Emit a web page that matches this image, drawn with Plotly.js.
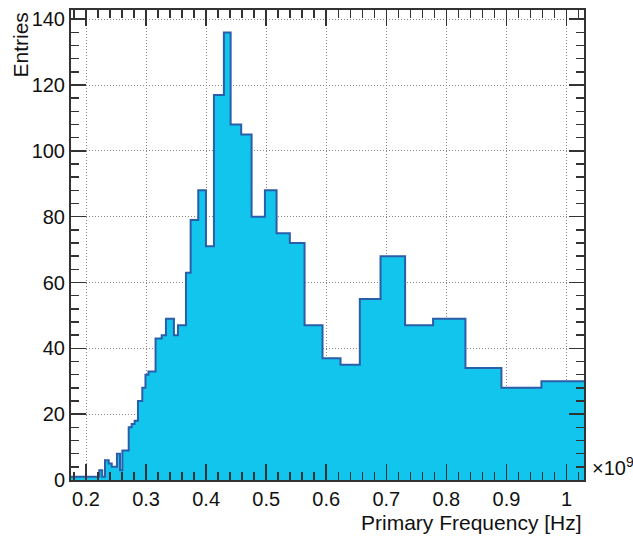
<!DOCTYPE html>
<html>
<head>
<meta charset="utf-8">
<script src="https://cdn.plot.ly/plotly-3.0.1.min.js"></script>
<style>html,body{margin:0;padding:0;background:#fff;}#chart{width:633px;height:536px;}</style>
</head>
<body>
<div id="chart"></div>
<script>
// Bin edges in units of 10^9 Hz
const binEdges = [0.175, 0.222, 0.227, 0.2316, 0.2378, 0.2428, 0.2515, 0.2566, 0.2605, 0.2711,
  0.2760, 0.2810, 0.2865, 0.2937, 0.2990, 0.3040, 0.3158, 0.3260, 0.3331, 0.3464,
  0.3531, 0.3664, 0.3742, 0.3869, 0.3997, 0.4130, 0.4296, 0.4408, 0.4584, 0.4757,
  0.4979, 0.5173, 0.5394, 0.5639, 0.5938, 0.6238, 0.6559, 0.6904, 0.7313, 0.7779,
  0.8318, 0.8917, 0.9583, 1.0292];
// Entries per bin
const binCounts = [1, 3, 1, 6, 5, 4, 8, 3, 9, 16,
  17, 18, 24, 28, 32, 33, 43, 44, 49, 44,
  47, 63, 79, 88, 71, 117, 136, 108, 105, 80,
  88, 75, 72, 47, 37, 35, 55, 68, 47, 49,
  34, 28, 30];
const xTickVals = [0.2, 0.3, 0.4, 0.5, 0.6, 0.7, 0.8, 0.9, 1.0];
const xTickText = ['0.2', '0.3', '0.4', '0.5', '0.6', '0.7', '0.8', '0.9', '1'];
const yTickVals = [0, 20, 40, 60, 80, 100, 120, 140];

const stepY = binCounts.concat([binCounts[binCounts.length - 1]]);

const trace = {
  type: 'scatter',
  mode: 'lines',
  x: binEdges,
  y: stepY,
  line: {shape: 'hv', color: '#2b5ea8', width: 2},
  fill: 'tozeroy',
  fillcolor: '#12c5ec',
  hoverinfo: 'x+y'
};

const fam = 'Liberation Sans, Arial, sans-serif';
const axisFont = {family: fam, size: 20, color: '#111'};
const titleFont = {family: fam, size: 21, color: '#111'};

const layout = {
  width: 633, height: 536,
  margin: {l: 71, r: 49, t: 10, b: 56},
  paper_bgcolor: '#fff', plot_bgcolor: '#fff',
  showlegend: false,
  font: axisFont,
  xaxis: {
    range: [0.175, 1.0292],
    tickvals: xTickVals, ticktext: xTickText,
    ticks: 'inside', ticklen: 16, tickwidth: 1.5, tickcolor: '#333',
    minor: {dtick: 0.02, tick0: 0, ticks: 'inside', ticklen: 8, tickwidth: 1.5, tickcolor: '#333', showgrid: false},
    showline: true, linecolor: '#333', linewidth: 2, mirror: 'ticks',
    showgrid: true, gridcolor: '#888', gridwidth: 1, griddash: '1px,2px',
    zeroline: false, tickfont: axisFont
  },
  yaxis: {
    range: [0, 142.8],
    tickvals: yTickVals,
    ticks: 'inside', ticklen: 15, tickwidth: 1.5, tickcolor: '#333',
    minor: {dtick: 4, tick0: 0, ticks: 'inside', ticklen: 8, tickwidth: 1.5, tickcolor: '#333', showgrid: false},
    showline: true, linecolor: '#333', linewidth: 2, mirror: 'ticks',
    showgrid: true, gridcolor: '#888', gridwidth: 1, griddash: '1px,2px',
    zeroline: false, tickfont: axisFont
  },
  annotations: [
    {text: 'Entries', xref: 'paper', yref: 'paper', x: -51/513, y: 1 - 1/470,
     xanchor: 'center', yanchor: 'top', textangle: -90, showarrow: false, font: titleFont},
    {text: 'Primary Frequency [Hz]', xref: 'paper', yref: 'paper', x: 1, y: -42/470,
     xanchor: 'right', yanchor: 'middle', showarrow: false, font: titleFont},
    {text: '×10<sup>9</sup>', xref: 'paper', yref: 'paper', x: 1.012, y: 14/470,
     xanchor: 'left', yanchor: 'middle', showarrow: false, font: {family: fam, size: 20, color: '#111'}}
  ]
};

Plotly.newPlot('chart', [trace], layout, {displayModeBar: false, staticPlot: true});
</script>
</body>
</html>
